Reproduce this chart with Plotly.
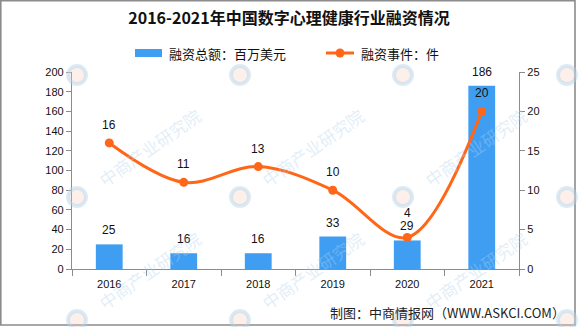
import plotly.graph_objects as go

# Data
years = ["2016", "2017", "2018", "2019", "2020", "2021"]
funding = [25, 16, 16, 33, 29, 186]      # 融资总额（百万美元）
deals = [16, 11, 13, 10, 4, 20]          # 融资事件（件）

title_text = "2016-2021年中国数字心理健康行业融资情况"
bar_name = "融资总额：百万美元"
line_name = "融资事件：件"
source_text = "制图：中商情报网（WWW.ASKCI.COM）"
watermark_text = "中商产业研究院"

W, H = 585, 327
ML, MR, MT, MB = 72, 66, 72, 58
PW, PH = W - ML - MR, H - MT - MB
Y1_MAX, Y2_MAX = 200, 25

BAR_COLOR = "#409EF2"
LINE_COLOR = "#FF6617"
AXIS_COLOR = "#8C8C8C"
CJK = "Noto Sans CJK SC"
NUM = "Liberation Sans, Arial, sans-serif"


def px_x(px):
    return (px - ML) / PW


def px_y(py):
    return (H - MB - py) / PH


fig = go.Figure()

fig.add_bar(
    x=years, y=funding, name=bar_name, yaxis="y",
    marker=dict(color=BAR_COLOR, line=dict(width=0)), width=0.36,
    hoverinfo="x+y",
)
fig.add_scatter(
    x=years, y=deals, name=line_name, yaxis="y2",
    mode="lines+markers",
    line=dict(color=LINE_COLOR, width=3, shape="spline", smoothing=1.0),
    marker=dict(color=LINE_COLOR, size=9),
)

annotations = []
# value labels: bars and line points (x given as category index)
for i, (f, d) in enumerate(zip(funding, deals)):
    bar_lab = f / Y1_MAX * PH + 14
    line_lab = d / Y2_MAX * PH + 18
    if abs(bar_lab - line_lab) < 13:
        line_lab = bar_lab + 13
    annotations.append(dict(
        x=i, y=f, xref="x", yref="y", text=str(f), showarrow=False,
        yshift=14, yanchor="middle", font=dict(family=NUM, size=12, color="#111"),
    ))
    annotations.append(dict(
        x=i, y=d, xref="x", yref="y2", text=str(d), showarrow=False,
        yshift=line_lab - d / Y2_MAX * PH, yanchor="middle",
        font=dict(family=NUM, size=12, color="#111"),
    ))

# legend entries
annotations.append(dict(
    x=px_x(167), y=px_y(53), xref="paper", yref="paper", text=bar_name,
    showarrow=False, xanchor="left", yanchor="middle",
    font=dict(family=CJK, size=13, color="#111"),
))
annotations.append(dict(
    x=px_x(359), y=px_y(53), xref="paper", yref="paper", text=line_name,
    showarrow=False, xanchor="left", yanchor="middle",
    font=dict(family=CJK, size=13, color="#111"),
))
# source note
annotations.append(dict(
    x=px_x(567), y=px_y(312), xref="paper", yref="paper", text=source_text,
    showarrow=False, xanchor="right", yanchor="middle",
    font=dict(family=CJK, size=13, color="#222"),
))

shapes = [
    # outer frame
    dict(type="rect", xref="paper", yref="paper",
         x0=px_x(0.8), x1=px_x(575), y0=px_y(0.8), y1=px_y(325),
         line=dict(color=AXIS_COLOR, width=1.6), fillcolor="rgba(0,0,0,0)", layer="below"),
    # legend swatches
    dict(type="rect", xref="paper", yref="paper",
         x0=px_x(135), x1=px_x(162), y0=px_y(49), y1=px_y(57),
         line=dict(width=0), fillcolor=BAR_COLOR),
    dict(type="line", xref="paper", yref="paper",
         x0=px_x(326), x1=px_x(354), y0=px_y(53), y1=px_y(53),
         line=dict(color=LINE_COLOR, width=3)),
    dict(type="circle", xref="paper", yref="paper",
         x0=px_x(335.5), x1=px_x(344.5), y0=px_y(48.5), y1=px_y(57.5),
         line=dict(width=0), fillcolor=LINE_COLOR),
]

# tiled watermark: logo ring at every tile, text where it fits on the canvas
for lx in (77, 240, 403, 567):
    for ly in (75, 197, 320):
        shapes.append(dict(
            type="circle", xref="paper", yref="paper",
            x0=px_x(lx - 9), x1=px_x(lx + 9), y0=px_y(ly - 9), y1=px_y(ly + 9),
            line=dict(color="rgba(175,210,235,0.45)", width=4),
            fillcolor="rgba(250,205,190,0.30)",
        ))
        if ly > 100 and lx < 500:
            annotations.append(dict(
                x=px_x(lx + 72), y=px_y(ly - 50), xref="paper", yref="paper",
                text=watermark_text, showarrow=False, textangle=-35,
                xanchor="center", yanchor="middle",
                font=dict(family=CJK, size=17, color="rgba(175,210,235,0.38)"),
            ))

axis_common = dict(
    showline=True, linecolor=AXIS_COLOR, linewidth=1.3,
    ticks="outside", tickcolor=AXIS_COLOR, tickwidth=1.3,
    showgrid=False, zeroline=False,
    tickfont=dict(family=NUM, size=11, color="#111"),
)

fig.update_layout(
    width=W, height=H,
    margin=dict(l=ML, r=MR, t=MT, b=MB, pad=0),
    paper_bgcolor="white", plot_bgcolor="white",
    showlegend=False,
    title=dict(
        text=title_text, x=289 / W, y=1 - 18 / H, xref="container",
        xanchor="center", yanchor="middle",
        font=dict(family=CJK, size=16, color="#111", weight="bold"),
    ),
    xaxis=dict(type="category", tickson="boundaries", ticklen=6,
               ticklabelstandoff=5,
               range=[-0.5, len(years) - 0.5], **axis_common),
    yaxis=dict(range=[0, Y1_MAX], dtick=20, ticklen=5, **axis_common),
    yaxis2=dict(range=[0, Y2_MAX], dtick=5, overlaying="y", side="right",
                ticklen=5, **axis_common),
    annotations=annotations,
    shapes=shapes,
)

fig.write_html("out.html")
